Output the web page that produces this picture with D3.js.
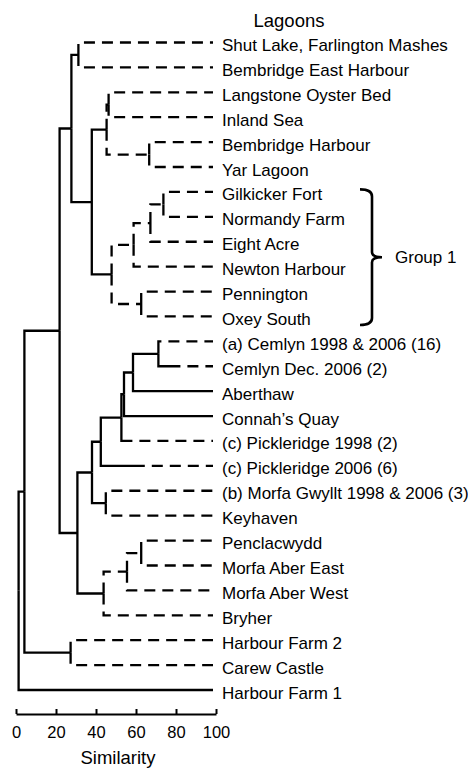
<!DOCTYPE html>
<html><head><meta charset="utf-8">
<script src="https://cdn.jsdelivr.net/npm/d3@7"></script>
<style>
body{margin:0;background:#fff}
svg{display:block}
text{font-family:"Liberation Sans",Arial,Helvetica,sans-serif;fill:#000}
</style>
</head><body>
<svg id="chart" width="468" height="768"></svg>
<script>
// ---- data ----
const leaves = [
  "Shut Lake, Farlington Mashes","Bembridge East Harbour","Langstone Oyster Bed","Inland Sea",
  "Bembridge Harbour","Yar Lagoon","Gilkicker Fort","Normandy Farm","Eight Acre","Newton Harbour",
  "Pennington","Oxey South","(a) Cemlyn 1998 & 2006 (16)","Cemlyn Dec. 2006 (2)","Aberthaw",
  "Connah\u2019s Quay","(c) Pickleridge 1998 (2)","(c) Pickleridge 2006 (6)",
  "(b) Morfa Gwyllt 1998 & 2006 (3)","Keyhaven","Penclacwydd","Morfa Aber East","Morfa Aber West",
  "Bryher","Harbour Farm 2","Carew Castle","Harbour Farm 1"
];
// [node id, child 1, child 2, similarity at merge]
const merges = [
  ["N1","Shut Lake, Farlington Mashes","Bembridge East Harbour",31.2],
  ["N2","Langstone Oyster Bed","Inland Sea",46.3],
  ["N3","Bembridge Harbour","Yar Lagoon",66.6],
  ["N4","N2","N3",45.3],
  ["N5","Gilkicker Fort","Normandy Farm",73.7],
  ["N6","N5","Eight Acre",67.2],
  ["N7","N6","Newton Harbour",58.8],
  ["N8","Pennington","Oxey South",62.6],
  ["N9","N7","N8",47.8],
  ["N10","N4","N9",37.9],
  ["N11","N1","N10",27.7],
  ["A","(a) Cemlyn 1998 & 2006 (16)","Cemlyn Dec. 2006 (2)",71.2],
  ["B","A","Aberthaw",58.5],
  ["C","B","Connah\u2019s Quay",54.0],
  ["D","C","(c) Pickleridge 1998 (2)",52.7],
  ["E","D","(c) Pickleridge 2006 (6)",42.4],
  ["F","(b) Morfa Gwyllt 1998 & 2006 (3)","Keyhaven",44.9],
  ["G","E","F",38.0],
  ["H1","Penclacwydd","Morfa Aber East",62.6],
  ["H2","H1","Morfa Aber West",55.5],
  ["H","H2","Bryher",43.8],
  ["I","G","H",30.7],
  ["J","N11","I",21.8],
  ["K","Harbour Farm 2","Carew Castle",27.3],
  ["L","J","K",4.2],
  ["ROOT","L","Harbour Farm 1",1.3]
];
const ticks = [0,20,40,60,80,100];
const groupSpan = ["Gilkicker Fort","Oxey South"];

// ---- styles ----
const dashedNodes = ["N1","N2","N3","N4","N5","N6","N7","N8","N9","F","H1","H2","H","K"];
const solidLead = {"(a) Cemlyn 1998 & 2006 (16)":3,"Cemlyn Dec. 2006 (2)":22,
                   "(c) Pickleridge 1998 (2)":11,"(c) Pickleridge 2006 (6)":44};
const DASH = "11,7", SW = 2.3;

const svg = d3.select("#chart");
const x = d3.scaleLinear().domain([0,100]).range([16,216]);
const y = d3.scaleLinear().domain([0,leaves.length-1]).range([42.5,690]);
const leafEnd = x(98.5);

// build tree
const byId = {};
leaves.forEach((n,i)=>{ byId[n] = {name:n, leafIndex:i}; });
merges.forEach(([id,a,b,s])=>{ byId[id] = {name:id, sim:s, children:[byId[a],byId[b]]}; });
const root = d3.hierarchy(byId["ROOT"]);
root.eachAfter(d=>{
  if(!d.children){ d.px = leafEnd; d.py = y(d.data.leafIndex); }
  else { d.px = x(d.data.sim); d.py = d3.mean(d.children,c=>c.py); }
});

const g = svg.append("g").attr("fill","none").attr("stroke","#000").attr("stroke-width",SW);
root.links().forEach(({source:p,target:c})=>{
  const dashed = dashedNodes.includes(p.data.name);
  const lead = (!dashed && !c.children) ? solidLead[c.data.name] : undefined;
  if(dashed){
    g.append("path").attr("d",`M${p.px},${p.py}V${c.py}H${c.px}`).attr("stroke-dasharray",DASH);
  } else if(lead!==undefined){
    g.append("path").attr("d",`M${p.px},${p.py}V${c.py}H${p.px+lead}`);
    g.append("path").attr("d",`M${p.px+lead+7},${c.py}H${c.px}`).attr("stroke-dasharray",DASH);
  } else {
    g.append("path").attr("d",`M${p.px},${p.py}V${c.py}H${c.px}`);
  }
});

// leaf labels
svg.append("g").selectAll("text").data(root.leaves()).join("text")
  .attr("x",222).attr("y",d=>d.py+8.5).attr("font-size",17).text(d=>d.data.name);

// title
svg.append("text").attr("x",289).attr("y",27).attr("text-anchor","middle")
  .attr("font-size",18.5).text("Lagoons");

// group bracket
const bTop = y(leaves.indexOf(groupSpan[0]))-2.5, bBot = y(leaves.indexOf(groupSpan[1]))+8.5, bMid=(bTop+bBot)/2;
svg.append("path").attr("fill","none").attr("stroke","#000").attr("stroke-width",2.6)
  .attr("d",`M360,${bTop}Q372,${bTop} 372,${bTop+7}V${bMid-5}Q372,${bMid} 382,${bMid}Q372,${bMid} 372,${bMid+5}V${bBot-7}Q372,${bBot} 360,${bBot}`);
svg.append("text").attr("x",395).attr("y",bMid+6).attr("font-size",17).text("Group 1");

// axis
const ax = svg.append("g").attr("transform","translate(0,714)")
  .call(d3.axisBottom(x).tickValues(ticks).tickSize(-5).tickSizeOuter(0).tickPadding(12));
ax.select(".domain").attr("stroke-width",2);
ax.selectAll(".tick line").attr("stroke-width",2);
ax.selectAll(".tick text").attr("font-size",16.5).attr("font-family","Liberation Sans, Arial, sans-serif");
svg.append("text").attr("x",118).attr("y",764).attr("text-anchor","middle")
  .attr("font-size",18.5).text("Similarity");
</script>
</body></html>
